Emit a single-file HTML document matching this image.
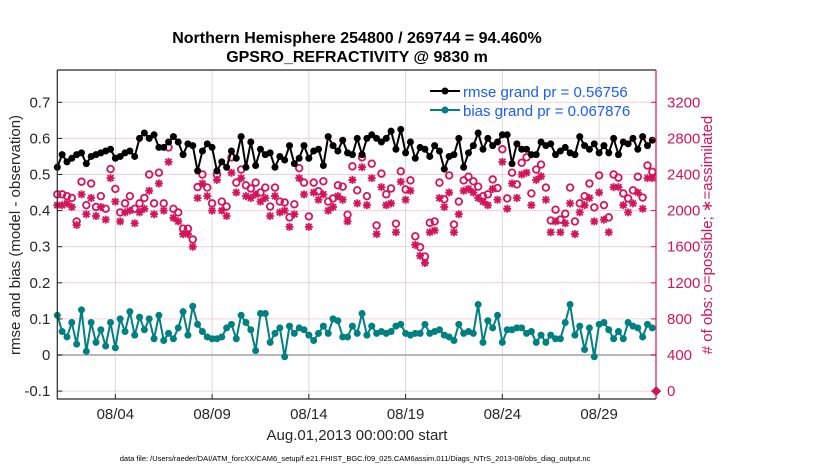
<!DOCTYPE html>
<html><head><meta charset="utf-8">
<style>
body{margin:0;background:#fff;}
svg text{font-family:"Liberation Sans",sans-serif;}
</style></head>
<body>
<svg id="chart" width="830" height="470" viewBox="0 0 830 470" xmlns="http://www.w3.org/2000/svg">
<g id="grid"></g>
<g id="series"></g>
<g id="axes"></g>
<text x="357" y="43" text-anchor="middle" font-size="16" font-weight="bold">Northern Hemisphere 254800 / 269744 = 94.460%</text>
<text x="357" y="62" text-anchor="middle" font-size="16" font-weight="bold">GPSRO_REFRACTIVITY @ 9830 m</text>
<text x="357" y="440" text-anchor="middle" font-size="15" fill="#262626">Aug.01,2013 00:00:00 start</text>
<text transform="translate(20,235) rotate(-90)" text-anchor="middle" font-size="15" fill="#262626">rmse and bias (model - observation)</text>
<text transform="translate(712,235) rotate(-90)" text-anchor="middle" font-size="15" fill="#d4145a"># of obs: o=possible; ∗=assimilated</text>
<text x="355" y="461" text-anchor="middle" font-size="7.5" fill="#000">data file: /Users/raeder/DAI/ATM_forcXX/CAM6_setup/f.e21.FHIST_BGC.f09_025.CAM6assim.011/Diags_NTrS_2013-08/obs_diag_output.nc</text>
<g id="legend">
<line x1="430" y1="91" x2="460" y2="91" stroke="#000" stroke-width="2"/><circle cx="445" cy="91" r="3.5" fill="#000"/>
<text x="463" y="97" font-size="15" fill="#1a5cff">rmse grand pr = 0.56756</text>
<line x1="430" y1="110" x2="460" y2="110" stroke="#008080" stroke-width="2"/><circle cx="445" cy="110" r="3.5" fill="#008080"/>
<text x="463" y="116" font-size="15" fill="#1a5cff">bias grand pr = 0.067876</text>
</g>
</svg>
<script>
const rmse=[.52,.555,.535,.545,.555,.56,.53,.55,.555,.56,.565,.57,.545,.55,.56,.565,.55,.60,.615,.60,.61,.575,.575,.59,.605,.59,.555,.585,.58,.51,.565,.585,.575,.51,.535,.52,.565,.545,.605,.52,.59,.525,.57,.555,.56,.52,.55,.54,.58,.53,.545,.58,.545,.565,.57,.525,.605,.58,.565,.595,.56,.555,.60,.555,.60,.61,.60,.59,.60,.62,.57,.625,.56,.59,.545,.575,.57,.55,.58,.565,.515,.55,.555,.60,.52,.56,.58,.615,.57,.60,.58,.59,.61,.61,.53,.585,.57,.57,.555,.555,.59,.58,.585,.555,.565,.575,.56,.555,.605,.58,.57,.585,.56,.58,.56,.60,.555,.59,.585,.60,.57,.605,.58,.595];
const bias=[.11,.065,.05,.09,.03,.125,.01,.09,.035,.07,.025,.09,.02,.10,.065,.12,.055,.105,.07,.10,.045,.11,.04,.06,.045,.075,.12,.055,.135,.085,.065,.05,.045,.045,.05,.075,.085,.045,.11,.09,.07,.012,.115,.115,.035,.06,.075,-.005,.08,.06,.075,.07,.055,.04,.06,.08,.06,.10,.095,.05,.05,.08,.06,.115,.055,.08,.06,.065,.06,.065,.08,.085,.06,.055,.06,.06,.085,.06,.065,.07,.055,.05,.04,.085,.06,.065,.06,.14,.035,.095,.075,.11,.035,.07,.07,.075,.075,.06,.065,.035,.055,.035,.055,.045,.045,.09,.14,.055,.08,.015,.075,-.005,.085,.09,.07,.045,.065,.045,.09,.08,.075,.05,.085,.075];
const possible=[2180,2180,2160,2140,1880,2320,2060,2300,2040,2160,2020,2460,2240,1980,2080,2160,2020,2080,2140,2400,2080,2420,2080,2700,2020,1980,1800,1800,1680,2260,2400,2255,2080,2400,2100,2045,2590,2310,2455,2280,2245,2310,2200,2255,2045,2255,2100,2090,1925,2070,2470,2310,1935,2310,2215,2325,2100,2135,2280,2265,1955,2490,2225,2590,2160,2520,1835,2410,2180,2245,1855,2435,2235,2335,1715,1595,1490,1865,1880,2310,2125,2390,1845,2100,2335,2375,2325,2265,2160,2180,2345,2250,2680,2135,2420,2290,2530,2590,2190,2455,2510,2255,1890,2010,1900,1965,2255,1880,2080,2160,2300,2035,2390,2060,1925,2400,2365,2190,2135,2225,2375,2145,2500,2430];
const assimilated=[2060,2060,2080,2040,1840,2180,1960,2140,1940,2040,1900,2360,2100,1880,1980,2000,1860,1980,2020,2220,1960,2300,2000,2540,1920,1880,1740,1740,1600,2140,2300,2160,2000,2340,2000,1940,2420,2200,2360,2160,2140,2180,2100,2140,1940,2160,1980,2000,1820,1960,2360,2180,1820,2200,2120,2180,2000,2040,2160,2120,1880,2340,2080,2480,2060,2360,1740,2260,2060,2080,1760,2320,2120,2220,1620,1500,1420,1760,1780,2140,2040,2200,1760,1960,2220,2240,2200,2140,2100,2060,2240,2120,2540,2020,2300,2140,2400,2420,2060,2340,2380,2120,1760,1880,1760,1860,2080,1740,1980,2060,2140,1880,2200,1900,1760,2260,2260,2060,1980,2080,2200,2020,2360,2360];
const lastObsDay=[30.95];
const lastObsCount=[0];
const xTickDays=[3,8,13,18,23,28];
const xTickLabels=["08/04","08/09","08/14","08/19","08/24","08/29"];
const leftTicks=[-0.1,0,0.1,0.2,0.3,0.4,0.5,0.6,0.7];
const leftTickLabels=["-0.1","0","0.1","0.2","0.3","0.4","0.5","0.6","0.7"];
const rightTicks=[0,400,800,1200,1600,2000,2400,2800,3200];
const rightTickLabels=["0","400","800","1200","1600","2000","2400","2800","3200"];
const stepDays=0.25;

const L=57.3,R=656,T=70,B=399;
const xS=d=>L+d*19.35;
const yL=v=>355-v*361;
const yR=c=>yL(c/4000-0.1);
const NS="http://www.w3.org/2000/svg";
function mk(tag,attrs,parent){const e=document.createElementNS(NS,tag);for(const k in attrs)e.setAttribute(k,attrs[k]);parent.appendChild(e);return e;}
const grid=document.getElementById('grid'),ser=document.getElementById('series'),ax=document.getElementById('axes');
const PINK="#d4145a",TEAL="#008080";
rightTicks.forEach((c,i)=>{const g=mk('line',{x1:L,x2:R,y1:yR(c),y2:yR(c),stroke:'#f3cfdc','stroke-width':1},grid);

});
xTickDays.forEach(d=>{const g=mk('line',{x1:xS(d),x2:xS(d),y1:T,y2:B,stroke:'#d9d9d9','stroke-width':1},grid);

});
const zl=mk('line',{x1:L,x2:R,y1:yL(0),y2:yL(0),stroke:'#b8b8b8','stroke-width':2},grid);


possible.forEach((c,i)=>{const e=mk('circle',{cx:xS(i*stepDays),cy:yR(c),r:3.3,fill:'none',stroke:PINK,'stroke-width':1.8},ser);

});
assimilated.forEach((c,i)=>{const x=xS(i*stepDays),y=yR(c),s=4;
const e=mk('path',{d:`M${x-s},${y}H${x+s}M${x},${y-s}V${y+s}M${x-3},${y-3}L${x+3},${y+3}M${x-3},${y+3}L${x+3},${y-3}`,stroke:PINK,'stroke-width':1.8,fill:'none'},ser);

});
lastObsDay.forEach((d,i)=>{const e=mk('path',{d:`M${xS(d)-5},${yR(lastObsCount[i])}L${xS(d)},${yR(lastObsCount[i])-5}L${xS(d)+5},${yR(lastObsCount[i])}L${xS(d)},${yR(lastObsCount[i])+5}Z`,fill:PINK},ser);

});
function line(arr,col,name){
const p=mk('polyline',{points:arr.map((v,i)=>xS(i*stepDays)+','+yL(v)).join(' '),fill:'none',stroke:col,'stroke-width':2,'stroke-linejoin':'round'},ser);


arr.forEach((v,i)=>{const c=mk('circle',{cx:xS(i*stepDays),cy:yL(v),r:3.5,fill:col},ser);

});}
line(bias,TEAL,'bias');
line(rmse,'#000','rmse');
const fr=mk('path',{d:`M${L},${T}V${B}H${R}`,stroke:'#262626','stroke-width':1.2,fill:'none'},ax);


const tp=mk('line',{x1:L,x2:R,y1:T,y2:T,stroke:'#262626','stroke-width':1.2},ax);


const ra=mk('line',{x1:R,x2:R,y1:T,y2:B,stroke:PINK,'stroke-width':1.2},ax);


leftTicks.forEach((v,i)=>{mk('line',{x1:L,x2:L+5,y1:yL(v),y2:yL(v),stroke:'#262626'},ax);
const t=mk('text',{x:L-7,y:yL(v)+5,'text-anchor':'end','font-size':15,fill:'#262626'},ax);t.textContent=leftTickLabels[i];

});
rightTicks.forEach((c,i)=>{mk('line',{x1:R-5,x2:R,y1:yR(c),y2:yR(c),stroke:PINK},ax);
const t=mk('text',{x:R+11,y:yR(c)+5,'font-size':15,fill:PINK},ax);t.textContent=rightTickLabels[i];

});
xTickDays.forEach((d,i)=>{mk('line',{x1:xS(d),x2:xS(d),y1:B,y2:B-5,stroke:'#262626'},ax);
const t=mk('text',{x:xS(d),y:419,'text-anchor':'middle','font-size':15,fill:'#262626'},ax);t.textContent=xTickLabels[i];

});
</script>
</body></html>
